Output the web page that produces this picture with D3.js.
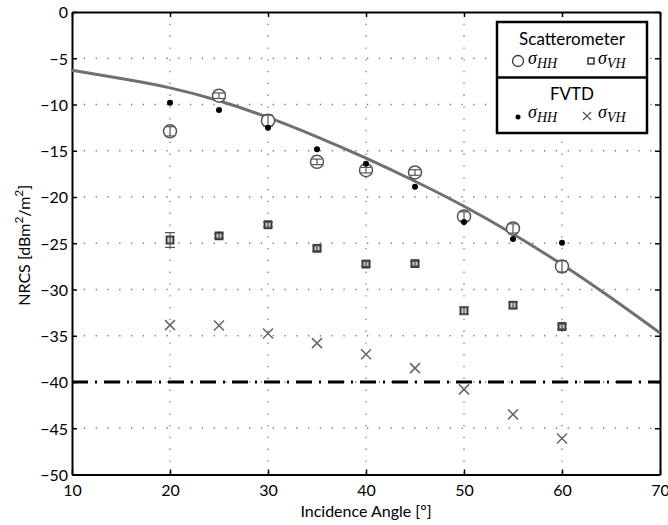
<!DOCTYPE html>
<html>
<head>
<meta charset="utf-8">
<script src="https://cdn.jsdelivr.net/npm/d3@7"></script>
<style>
  body { margin: 0; background: #fff; }
  text { font-family: Lato, "Noto Sans", sans-serif; }
</style>
</head>
<body>
<div id="chart"></div>
<script>
// angles of the measurements
var angles = [20, 25, 30, 35, 40, 45, 50, 55, 60];
// scatterometer
var scatHH = [-12.9, -9.05, -11.75, -16.2, -17.1, -17.35, -22.1, -23.4, -27.5];
var scatHHerr = [0.5, 0.3, 0.6, 0.3, 0.3, 0.3, 0.5, 0.5, 0.6];
var scatVH = [-24.65, -24.2, -23.0, -25.55, -27.25, -27.2, -32.3, -31.7, -34.0];
var scatVHerr = [0.8, 0.25, 0.25, 0.25, 0.25, 0.25, 0.4, 0.3, 0.25];
// FVTD simulation
var fvtdHH = [-9.8, -10.6, -12.5, -14.85, -16.4, -18.9, -22.7, -24.55, -24.95];
var fvtdVH = [-33.85, -33.9, -34.75, -35.8, -37.0, -38.5, -40.8, -43.5, -46.1];
// model curve
var curveX = [10, 15, 20, 25, 30, 35, 40, 45, 50, 55, 60, 65, 70];
var curveY = [-6.3, -7.2, -8.2, -9.6, -11.4, -13.5, -15.8, -18.3, -21.0, -24.0, -27.3, -30.9, -34.7];
var noiseFloor = -40;
var xTicks = [10, 20, 30, 40, 50, 60, 70];
var yTicks = [0, -5, -10, -15, -20, -25, -30, -35, -40, -45, -50];

var width = 668, height = 525,
    margin = {top: 12, right: 8, bottom: 50.5, left: 72},
    innerWidth = width - margin.left - margin.right,
    innerHeight = height - margin.top - margin.bottom;

var svg = d3.select("#chart").append("svg")
    .attr("width", width)
    .attr("height", height);

var g = svg.append("g")
    .attr("transform", "translate(" + margin.left + "," + margin.top + ")");

var x = d3.scaleLinear().domain([10, 70]).range([0, innerWidth]);
var y = d3.scaleLinear().domain([-50, 0]).range([innerHeight, 0]);

// dotted grid
g.selectAll(".vgrid").data(xTicks.slice(1, -1)).enter().append("line")
    .attr("x1", function(d) { return x(d); })
    .attr("x2", function(d) { return x(d); })
    .attr("y1", 0).attr("y2", innerHeight)
    .attr("stroke", "#777").attr("stroke-width", 1.3)
    .attr("stroke-dasharray", "1.3,10.5");
g.selectAll(".hgrid").data(yTicks.slice(1, -1)).enter().append("line")
    .attr("y1", function(d) { return y(d); })
    .attr("y2", function(d) { return y(d); })
    .attr("x1", 0).attr("x2", innerWidth)
    .attr("stroke", "#777").attr("stroke-width", 1.3)
    .attr("stroke-dasharray", "1.3,10.5");

// axes with inside ticks
var fmt = function(d) { return d3.format("d")(d).replace("-", "\u2212"); };
var axB = g.append("g").attr("transform", "translate(0," + innerHeight + ")")
    .call(d3.axisBottom(x).tickValues(xTicks).tickSizeInner(-5).tickSizeOuter(0).tickPadding(12).tickFormat(fmt));
var axT = g.append("g")
    .call(d3.axisTop(x).tickValues(xTicks).tickSizeInner(-5).tickSizeOuter(0).tickFormat(""));
var axL = g.append("g")
    .call(d3.axisLeft(y).tickValues(yTicks).tickSizeInner(-5).tickSizeOuter(0).tickPadding(4).tickFormat(fmt));
var axR = g.append("g").attr("transform", "translate(" + innerWidth + ",0)")
    .call(d3.axisRight(y).tickValues(yTicks).tickSizeInner(-5).tickSizeOuter(0).tickFormat(""));
[axB, axT, axL, axR].forEach(function(a) {
  a.select(".domain").attr("stroke", "#000").attr("stroke-width", 2);
  a.selectAll(".tick line").attr("stroke", "#000").attr("stroke-width", 1.5);
  a.selectAll(".tick text").attr("fill", "#000").attr("font-size", 16)
    .style("font-family", "Lato, 'Noto Sans', sans-serif");
});
axB.selectAll(".tick text").attr("dy", "0.6em");
axL.selectAll(".tick text").attr("dy", "0.36em");

// noise floor
g.append("line")
    .attr("x1", 0).attr("x2", innerWidth)
    .attr("y1", y(noiseFloor)).attr("y2", y(noiseFloor))
    .attr("stroke", "#000").attr("stroke-width", 3.2)
    .attr("stroke-dasharray", "16,7,2,7");

// model curve
var pts = curveX.map(function(d, i) { return [d, curveY[i]]; });
g.append("path")
    .datum(pts)
    .attr("fill", "none")
    .attr("stroke", "#707070")
    .attr("stroke-width", 3)
    .attr("d", d3.line().curve(d3.curveNatural)
      .x(function(d) { return x(d[0]); })
      .y(function(d) { return y(d[1]); }));

// error bars
function errBars(vals, errs, color) {
  var eb = g.append("g").attr("stroke", color).attr("stroke-width", 1.2).attr("fill", "none");
  angles.forEach(function(a, i) {
    var cx = x(a), y1 = y(vals[i] + errs[i]), y2 = y(vals[i] - errs[i]);
    eb.append("line").attr("x1", cx).attr("x2", cx).attr("y1", y1).attr("y2", y2);
    eb.append("line").attr("x1", cx - 5).attr("x2", cx + 5).attr("y1", y1).attr("y2", y1);
    eb.append("line").attr("x1", cx - 5).attr("x2", cx + 5).attr("y1", y2).attr("y2", y2);
  });
}

// scatterometer HH circles
g.selectAll(".shh").data(angles).enter().append("circle")
    .attr("cx", function(d) { return x(d); })
    .attr("cy", function(d, i) { return y(scatHH[i]); })
    .attr("r", 6.5)
    .attr("fill", "#fff").attr("stroke", "#555").attr("stroke-width", 1.5);
errBars(scatHH, scatHHerr, "#555");

// scatterometer VH squares
g.selectAll(".svh").data(angles).enter().append("rect")
    .attr("x", function(d) { return x(d) - 3.5; })
    .attr("y", function(d, i) { return y(scatVH[i]) - 3.5; })
    .attr("width", 7).attr("height", 7)
    .attr("fill", "#ccc").attr("stroke", "#333").attr("stroke-width", 1.8);
errBars(scatVH, scatVHerr, "#555");

// FVTD HH dots
g.selectAll(".fhh").data(angles).enter().append("circle")
    .attr("cx", function(d) { return x(d); })
    .attr("cy", function(d, i) { return y(fvtdHH[i]); })
    .attr("r", 3)
    .attr("fill", "#000");

// FVTD VH crosses
g.selectAll(".fvh").data(angles).enter().append("path")
    .attr("transform", function(d, i) { return "translate(" + x(d) + "," + y(fvtdVH[i]) + ")"; })
    .attr("d", "M-5,-5L5,5M-5,5L5,-5")
    .attr("stroke", "#666").attr("stroke-width", 1.5);

// axis titles
svg.append("text")
    .attr("x", margin.left + innerWidth / 2).attr("y", 517)
    .attr("text-anchor", "middle").attr("font-size", 16)
    .text("Incidence Angle [\u00BA]");
var yl = svg.append("text")
    .attr("transform", "translate(30," + (margin.top + innerHeight / 2 + 2) + ") rotate(-90)")
    .attr("text-anchor", "middle").attr("font-size", 16);
yl.append("tspan").text("NRCS [dBm");
yl.append("tspan").attr("baseline-shift", "super").attr("font-size", 12).text("2");
yl.append("tspan").text("/m");
yl.append("tspan").attr("baseline-shift", "super").attr("font-size", 12).text("2");
yl.append("tspan").text("]");

// legend
var lg = svg.append("g");
lg.append("rect").attr("x", 497).attr("y", 22).attr("width", 150).attr("height", 111)
    .attr("fill", "#fff").attr("stroke", "#000").attr("stroke-width", 2.5);
lg.append("line").attr("x1", 497).attr("x2", 647).attr("y1", 77.5).attr("y2", 77.5)
    .attr("stroke", "#000").attr("stroke-width", 2.5);
lg.append("text").attr("x", 572).attr("y", 45).attr("text-anchor", "middle")
    .attr("font-size", 17).text("Scatterometer");
lg.append("text").attr("x", 572).attr("y", 100).attr("text-anchor", "middle")
    .attr("font-size", 17).text("FVTD");

function sigma(xp, yp, sub) {
  var t = lg.append("text").attr("x", xp).attr("y", yp)
      .style("font-family", "'Liberation Serif', 'Times New Roman', serif").attr("font-style", "italic");
  t.append("tspan").attr("font-size", 18).text("\u03C3");
  t.append("tspan").attr("font-size", 14).attr("dy", 4).text(sub);
}
lg.append("circle").attr("cx", 518).attr("cy", 61).attr("r", 5.5)
    .attr("fill", "none").attr("stroke", "#333").attr("stroke-width", 1.3);
sigma(528, 64, "HH");
lg.append("rect").attr("x", 588).attr("y", 58).attr("width", 6).attr("height", 6)
    .attr("fill", "#fff").attr("stroke", "#333").attr("stroke-width", 1.5);
sigma(598, 64, "VH");
lg.append("circle").attr("cx", 518).attr("cy", 117).attr("r", 2.5).attr("fill", "#000");
sigma(528, 118, "HH");
lg.append("path").attr("transform", "translate(587,116)")
    .attr("d", "M-4,-4L4,4M-4,4L4,-4").attr("stroke", "#555").attr("stroke-width", 1.2);
sigma(598, 118, "VH");
</script>
</body>
</html>
